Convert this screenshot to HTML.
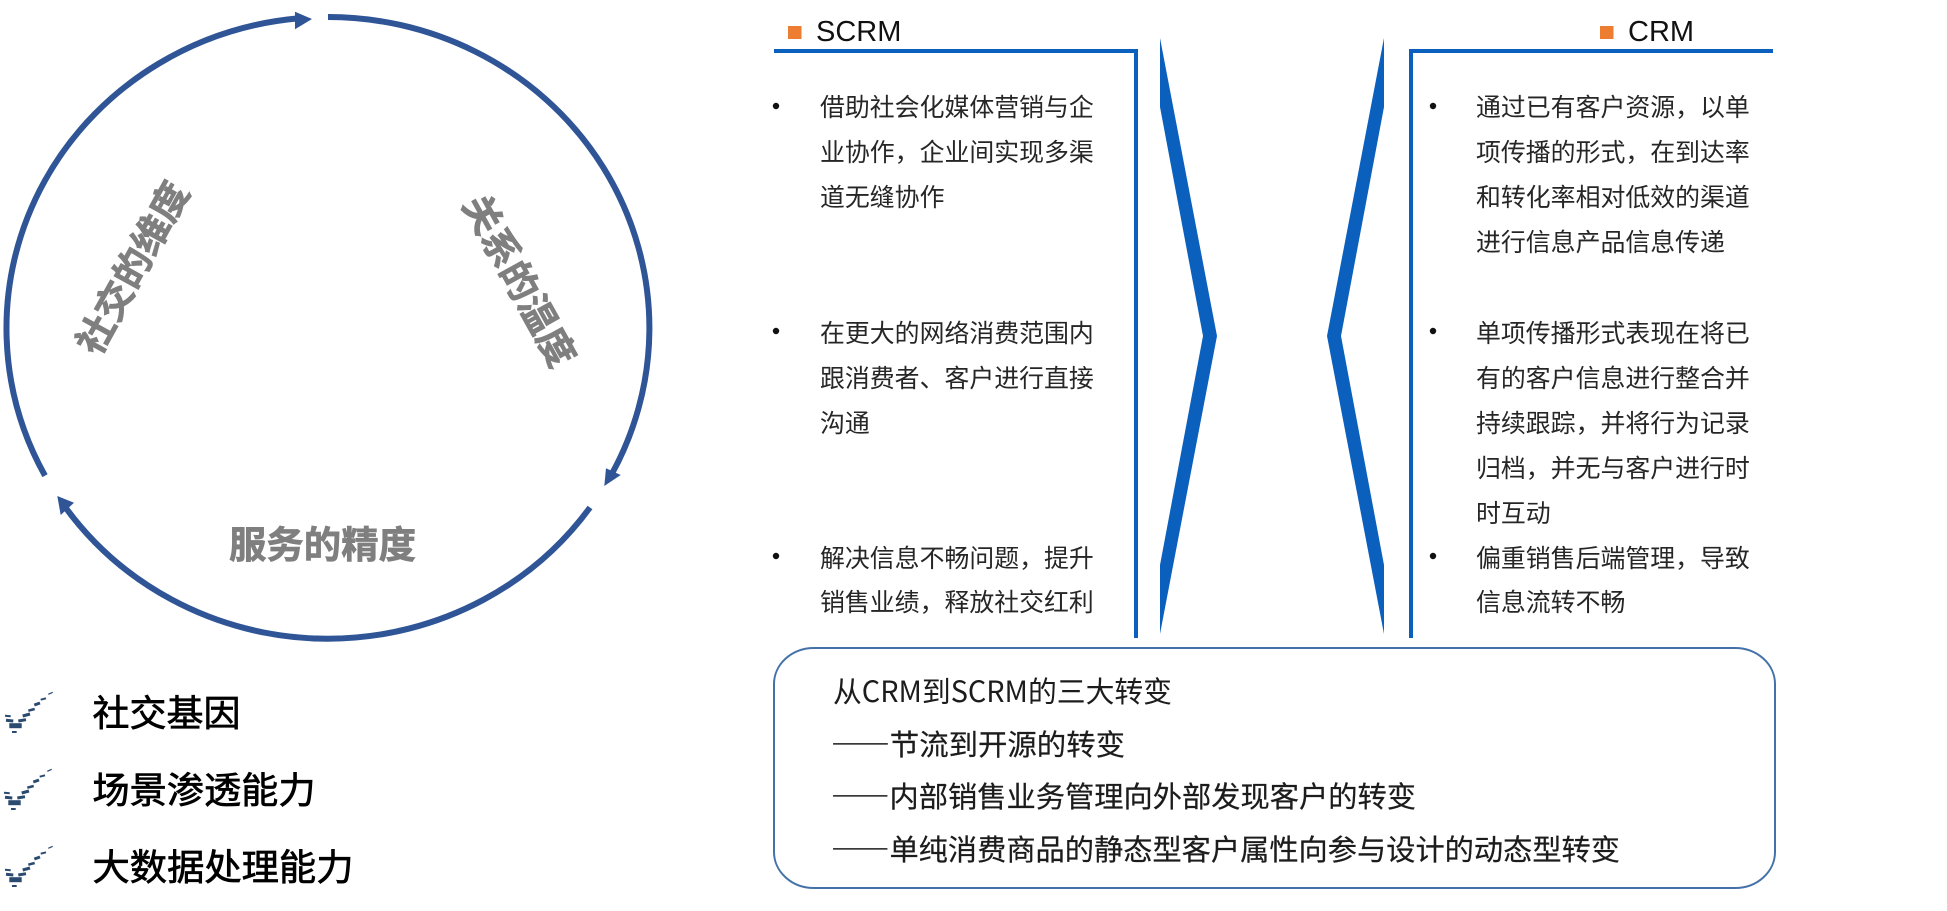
<!DOCTYPE html>
<html lang="zh"><head><meta charset="utf-8"><title>SCRM vs CRM</title>
<style>
html,body{margin:0;padding:0;background:#fff;width:1947px;height:911px;overflow:hidden}
svg{display:block}
text{font-family:"Noto Sans CJK SC","Liberation Sans",sans-serif}
.l{font-family:"Liberation Sans","Noto Sans CJK SC",sans-serif;font-size:29px;fill:#111}
.g{font-size:37.5px;font-weight:700;fill:#7f7f7f;stroke:#7f7f7f;stroke-width:.7px}
.k{font-size:36.5px;fill:#000;stroke:#000;stroke-width:.7px}
.p{font-size:24.9px;fill:#262626}
.b{font-size:29.2px;fill:#1c1c1c}
</style></head><body>
<svg width="1947" height="911" viewBox="0 0 1947 911" xmlns="http://www.w3.org/2000/svg">
<defs>
<g id="chk" stroke="#2b4a70" fill="none" stroke-linecap="butt">
<path d="M48.3 694.3L52.7 692.3" stroke-width="1.2"/>
<path d="M40.7 699.7L46 698.3" stroke-width="2"/>
<path d="M34.3 705L40 703" stroke-width="3"/>
<path d="M28.3 710.7L34.7 709" stroke-width="2.5"/>
<path d="M22.7 716L30 714" stroke-width="3"/>
<path d="M5 715.7L10.7 716.3" stroke-width="2"/>
<path d="M6 720.3L13.3 721M18.3 721L26 719.7" stroke-width="3"/>
<path d="M9.3 725.7L21.7 725.7" stroke-width="5"/>
<path d="M12 732L16.7 732" stroke-width="2"/>
</g>
</defs>

<!-- cycle -->
<g fill="none" stroke="#2F5597" stroke-width="6">
<path d="M328 17A321.4 311 0 0 1 612 473.6"/>
<path d="M590 507.5A321.4 311 0 0 1 65 506.8"/>
<path d="M45 475.7A321.4 311 0 0 1 298 18.4"/>
</g>
<g fill="#2F5597">
<polygon points="312,19 295,11.7 295,29.3"/>
<polygon points="604.3,486 606,468.3 620.7,475"/>
<polygon points="57.3,496 74,502.7 60.7,515"/>
</g>
<text class="g" x="229" y="558" textLength="187" lengthAdjust="spacingAndGlyphs">服务的精度</text>
<text class="g" text-anchor="middle" transform="translate(133 268) rotate(-61) translate(0 13)" textLength="190" lengthAdjust="spacingAndGlyphs">社交的维度</text>
<text class="g" text-anchor="middle" transform="translate(519 281) rotate(61) translate(0 13)" textLength="190" lengthAdjust="spacingAndGlyphs">关系的温度</text>

<!-- list -->
<use href="#chk"/>
<use href="#chk" transform="translate(-1 77)"/>
<use href="#chk" transform="translate(0 154)"/>
<text class="k" x="92.5" y="726" textLength="148" lengthAdjust="spacingAndGlyphs">社交基因</text>
<text class="k" x="92.5" y="803" textLength="223" lengthAdjust="spacingAndGlyphs">场景渗透能力</text>
<text class="k" x="92.5" y="880" textLength="261" lengthAdjust="spacingAndGlyphs">大数据处理能力</text>

<!-- headers -->
<rect x="788" y="26" width="13.5" height="13" fill="#ED7D31"/>
<text class="l" x="816" y="41">SCRM</text>
<rect x="1600" y="26" width="13.5" height="13" fill="#ED7D31"/>
<text class="l" x="1628" y="41">CRM</text>

<!-- frames -->
<path d="M774 51H1136V638" fill="none" stroke="#0B60BE" stroke-width="4"/>
<path d="M1773 51H1411V638" fill="none" stroke="#0B60BE" stroke-width="4"/>

<!-- chevrons -->
<polygon points="1160,38 1217,336 1160,634 1160,565 1203,336 1160,107" fill="#0B60BE"/>
<polygon points="1384,38 1327,336 1384,634 1384,565 1341,336 1384,107" fill="#0B60BE"/>

<!-- bullets -->
<g fill="#111">
<circle cx="776" cy="106" r="3.2"/><circle cx="776" cy="331" r="3.2"/><circle cx="776" cy="556" r="3.2"/>
<circle cx="1433" cy="106" r="3.2"/><circle cx="1433" cy="331" r="3.2"/><circle cx="1433" cy="556" r="3.2"/>
</g>

<!-- SCRM text -->
<g>
<text class="p" x="820" y="116">借助社会化媒体营销与企</text>
<text class="p" x="820" y="161">业协作，企业间实现多渠</text>
<text class="p" x="820" y="206">道无缝协作</text>
<text class="p" x="820" y="342">在更大的网络消费范围内</text>
<text class="p" x="820" y="387">跟消费者、客户进行直接</text>
<text class="p" x="820" y="432">沟通</text>
<text class="p" x="820" y="567">解决信息不畅问题，提升</text>
<text class="p" x="820" y="611">销售业绩，释放社交红利</text>
</g>

<!-- CRM text -->
<g>
<text class="p" x="1476" y="116">通过已有客户资源，以单</text>
<text class="p" x="1476" y="161">项传播的形式，在到达率</text>
<text class="p" x="1476" y="206">和转化率相对低效的渠道</text>
<text class="p" x="1476" y="251">进行信息产品信息传递</text>
<text class="p" x="1476" y="342">单项传播形式表现在将已</text>
<text class="p" x="1476" y="387">有的客户信息进行整合并</text>
<text class="p" x="1476" y="432">持续跟踪，并将行为记录</text>
<text class="p" x="1476" y="477">归档，并无与客户进行时</text>
<text class="p" x="1476" y="522">时互动</text>
<text class="p" x="1476" y="567">偏重销售后端管理，导致</text>
<text class="p" x="1476" y="611">信息流转不畅</text>
</g>

<!-- bottom box -->
<rect x="774" y="648" width="1001" height="240" rx="40" ry="36" fill="#fff" stroke="#4472A8" stroke-width="2"/>
<text class="b" x="833" y="702" textLength="339" lengthAdjust="spacingAndGlyphs">从CRM到SCRM的三大转变</text>
<text class="b" x="831" y="755" textLength="294" lengthAdjust="spacingAndGlyphs" stroke="#1c1c1c" stroke-width=".2">——节流到开源的转变</text>
<text class="b" x="831" y="807" textLength="585" lengthAdjust="spacingAndGlyphs" stroke="#1c1c1c" stroke-width=".2">——内部销售业务管理向外部发现客户的转变</text>
<text class="b" x="831" y="860" textLength="789" lengthAdjust="spacingAndGlyphs" stroke="#1c1c1c" stroke-width=".2">——单纯消费商品的静态型客户属性向参与设计的动态型转变</text>
</svg>
</body></html>
